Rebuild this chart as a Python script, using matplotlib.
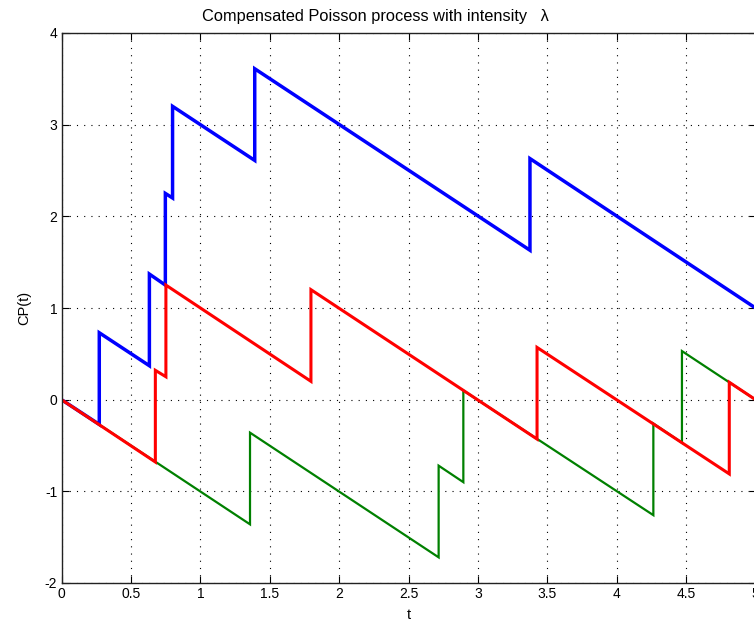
import matplotlib
matplotlib.use("Agg")
import matplotlib.pyplot as plt

# vertices of each path (t, CP(t))
blue_t = [0, 0.272, 0.272, 0.633, 0.633, 0.748, 0.748, 0.80, 0.80, 1.392, 1.392, 3.375, 3.375, 5]
blue_y = [0, -0.27, 0.73, 0.37, 1.37, 1.25, 2.25, 2.20, 3.20, 2.61, 3.61, 1.63, 2.63, 1.0]

red_t = [0, 0.676, 0.676, 0.752, 0.752, 1.797, 1.797, 3.426, 3.426, 4.811, 4.811, 5]
red_y = [0, -0.68, 0.32, 0.25, 1.25, 0.20, 1.20, -0.43, 0.57, -0.81, 0.19, 0.0]

green_t = [0, 1.358, 1.358, 2.717, 2.717, 2.895, 2.895, 4.264, 4.264, 4.47, 4.47, 5]
green_y = [0, -1.36, -0.36, -1.72, -0.72, -0.90, 0.10, -1.26, -0.26, -0.47, 0.53, 0.0]

xticks = [0, 0.5, 1, 1.5, 2, 2.5, 3, 3.5, 4, 4.5, 5]
xticklabels = ["0", "0.5", "1", "1.5", "2", "2.5", "3", "3.5", "4", "4.5", "5"]
yticks = [-2, -1, 0, 1, 2, 3, 4]

plt.rcParams['font.family'] = ['Liberation Sans', 'DejaVu Sans']
plt.rcParams['axes.unicode_minus'] = False

fig = plt.figure(figsize=(7.54, 6.25), dpi=100)
ax = fig.add_axes([0.0816, 0.0672, 0.9204, 0.8800])

ax.plot(blue_t, blue_y, color=(0, 0, 1), lw=2.5, solid_joinstyle='miter')
ax.plot(green_t, green_y, color=(0, 0.5, 0), lw=1.6, solid_joinstyle='miter')
ax.plot(red_t, red_y, color=(1, 0, 0), lw=2.2, solid_joinstyle='miter')

ax.set_xlim(0, 5)
ax.set_ylim(-2, 4)
ax.set_xticks(xticks)
ax.set_xticklabels(xticklabels)
ax.set_yticks(yticks)

ax.grid(True, color='black', lw=0.8, linestyle=(0, (1, 5.5)))
ax.tick_params(direction='in', length=5, width=0.8, top=True, right=True,
               labelsize=10, pad=3, colors='black')
for s in ax.spines.values():
    s.set_linewidth(1.0)
    s.set_color('#222222')

ax.set_title("Compensated Poisson process with intensity   λ", fontsize=11.8, pad=9, x=0.453)
ax.set_xlabel("t", fontsize=10.5, labelpad=5)
ax.set_ylabel("CP(t)", fontsize=10.5, labelpad=10)

fig.savefig("out.png", dpi=100)
